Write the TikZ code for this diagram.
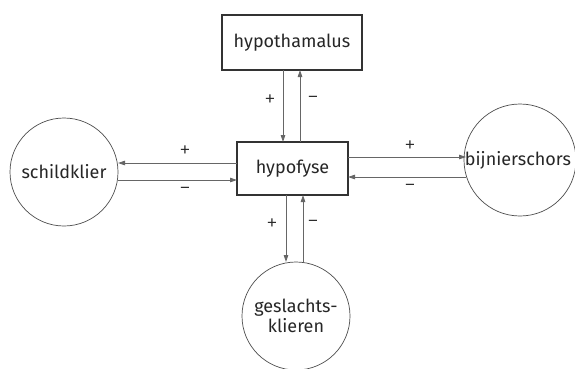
\documentclass[tikz,border=0pt]{standalone}
\usepackage{fontspec}
\setmainfont{Fira Sans}
\newfontfamily\lightfont{Fira Sans Light}
\usetikzlibrary{arrows.meta}
\begin{document}
\begin{tikzpicture}[x=1pt,y=-1pt,
  every node/.style={font=\fontsize{18}{20}\selectfont, text=black!85},
  boxnode/.style={draw=black!80, line width=1.1pt, inner sep=0pt},
  circnode/.style={draw=black!70, line width=0.7pt, circle, inner sep=0pt, align=center},
  conn/.style={draw=black!60, line width=0.8pt, -{Triangle[length=7pt,width=4.5pt]}},
  sign/.style={font=\lightfont\fontsize{23}{25}\selectfont, inner sep=0pt}]
\useasboundingbox (0,0) rectangle (575,368);
\node[boxnode, minimum width=140pt, minimum height=55pt] (hyt) at (292,42.5) {hypothamalus};
\node[boxnode, minimum width=111pt, minimum height=53pt] (hyp) at (292.5,168.5) {hypofyse};
\node[circnode, minimum size=108pt] (sch) at (64,172) {schildklier};
\node[circnode, minimum size=112pt] (bij) at (520,160) {};
\node at (518,160) (bijt) {bijnierschors};
\node[circnode, minimum size=108pt] (ges) at (296,316) {geslachts-\\klieren};
% top
\coordinate (t1a) at (283,70); \coordinate (t1b) at (283,142);
\coordinate (t2a) at (300,142); \coordinate (t2b) at (300,70);
\draw[conn] (t1a) -- (t1b);
\draw[conn] (t2a) -- (t2b);
\node[sign] (p1) at (270,101) {+};
\node[sign] (m1) at (313,100) {−};
% left
\coordinate (l1a) at (237,163); \coordinate (l1b) at (118,163);
\coordinate (l2a) at (118,180); \coordinate (l2b) at (237,180);
\draw[conn] (l1a) -- (l1b);
\draw[conn] (l2a) -- (l2b);
\node[sign] (p2) at (185,152) {+};
\node[sign] (m2) at (185,191) {−};
% right
\coordinate (r1a) at (348,157); \coordinate (r1b) at (466,157);
\coordinate (r2a) at (466,177); \coordinate (r2b) at (348,177);
\draw[conn] (r1a) -- (r1b);
\draw[conn] (r2a) -- (r2b);
\node[sign] (p3) at (410,147) {+};
\node[sign] (m3) at (410,188) {−};
% bottom
\coordinate (b1a) at (286,195); \coordinate (b1b) at (286,262);
\coordinate (b2a) at (303,262); \coordinate (b2b) at (303,195);
\draw[conn] (b1a) -- (b1b);
\draw[conn] (b2a) -- (b2b);
\node[sign] (p4) at (272,225) {+};
\node[sign] (m4) at (313,224) {−};
\end{tikzpicture}
\end{document}
